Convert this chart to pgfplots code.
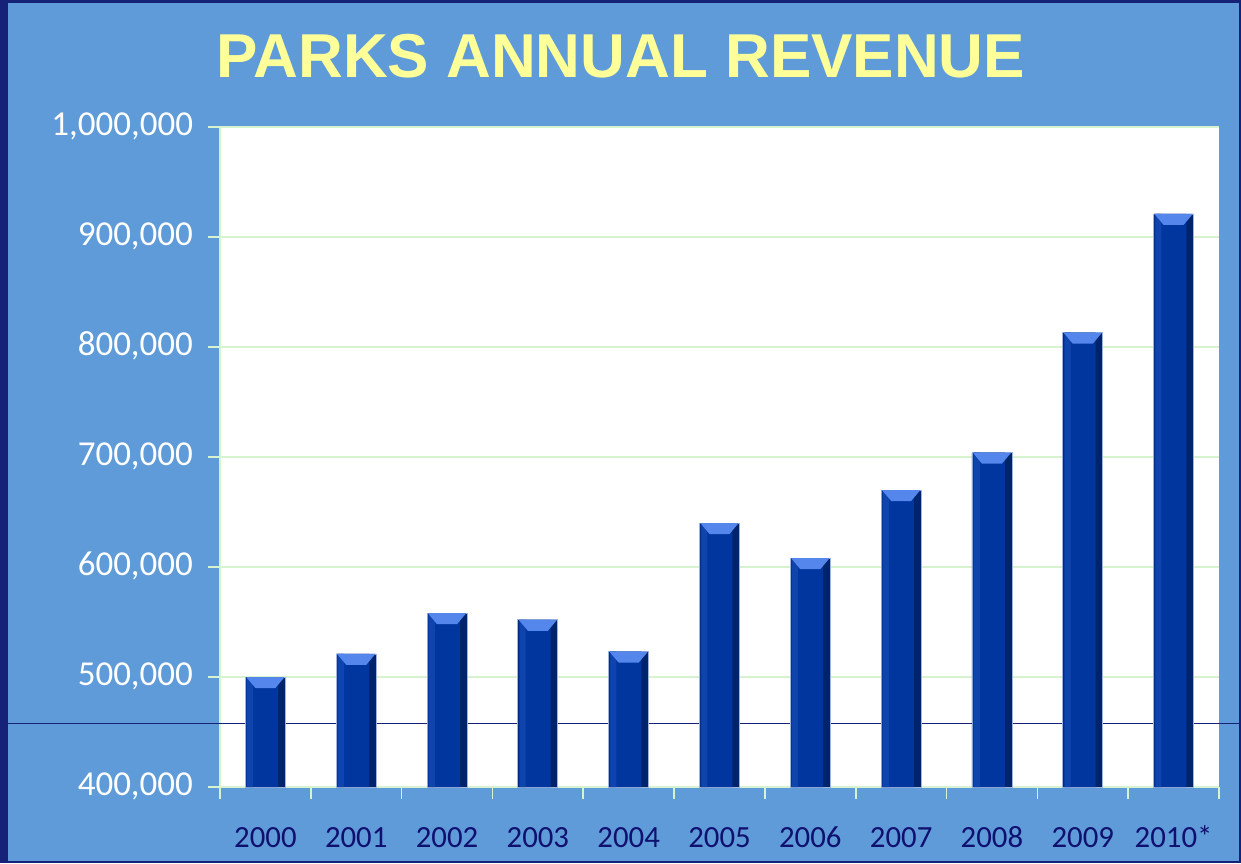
\documentclass[border=0pt]{standalone}
\usepackage{pgfplots}
\usepackage{pgfplotstable}
\pgfplotsset{compat=1.18}
\usepackage{fontspec}
\setmainfont{Carlito}
\newfontfamily\titlefont{Liberation Sans}

\definecolor{slideblue}{RGB}{94,155,216}
\definecolor{framenavy}{RGB}{22,34,120}
\definecolor{titleyellow}{RGB}{255,255,153}
\definecolor{labelnavy}{RGB}{16,16,112}
\definecolor{gridgreen}{RGB}{214,242,206}
\definecolor{barleft}{RGB}{14,68,172}
\definecolor{barmid}{RGB}{0,54,158}
\definecolor{barright}{RGB}{0,36,108}
\definecolor{baredge}{RGB}{160,180,220}
\definecolor{capblue}{RGB}{84,134,236}

% bevelled top of each bar
\pgfdeclareplotmark{bevel}{%
  \pgfpathmoveto{\pgfpoint{-9.6pt}{0pt}}%
  \pgfpathlineto{\pgfpoint{9.6pt}{0pt}}%
  \pgfpathlineto{\pgfpoint{5pt}{-5.5pt}}%
  \pgfpathlineto{\pgfpoint{-5pt}{-5.5pt}}%
  \pgfpathclose\pgfusepathqfill}

\pgfplotstableread{
x y
0 500000
1 521000
2 558000
3 552000
4 523000
5 640000
6 608000
7 670000
8 704000
9 813000
10 921000
}\revenue

\begin{document}
\begin{tikzpicture}
\path[use as bounding box] (0,0) rectangle (620.5pt,431.5pt);
\fill[framenavy] (0,0) rectangle (620.5pt,431.5pt);
\fill[slideblue] (4pt,1pt) rectangle (619.5pt,430pt);

\node[anchor=base, text=titleyellow, font=\titlefont\bfseries\fontsize{31}{36}\selectfont]
  at (310.5pt,392.5pt) {PARKS ANNUAL REVENUE};

\begin{axis}[
  at={(110pt,38pt)}, anchor=south west,
  scale only axis,
  width=499.5pt, height=330pt,
  clip=false,
  axis background/.style={fill=white},
  xmin=-0.5, xmax=10.5,
  ymin=400000, ymax=1000000,
  axis x line*=bottom, axis y line*=left,
  axis line style={draw=gridgreen, line width=1pt, -},
  ytick={400000,500000,600000,700000,800000,900000,1000000},
  ymajorgrids,
  y grid style={gridgreen, line width=0.8pt},
  tick align=outside,
  major tick length=6pt,
  minor tick length=6pt,
  tick style={gridgreen, line width=0.8pt},
  xtick={0,1,2,3,4,5,6,7,8,9,10},
  xticklabels={2000,2001,2002,2003,2004,2005,2006,2007,2008,2009,2010*},
  x tick style={draw=none},
  minor xtick={-0.5,0.5,1.5,2.5,3.5,4.5,5.5,6.5,7.5,8.5,9.5,10.5},
  minor x tick style={draw=gridgreen, line width=0.8pt},
  scaled y ticks=false,
  typeset ticklabels with strut,
  /pgf/number format/.cd, fixed, 1000 sep={,}, assume math mode=true,
  /pgfplots/.cd,
  yticklabel style={text=white, font=\fontsize{17.5}{20}\selectfont, xshift=-4pt},
  xticklabel style={text=labelnavy, font=\fontsize{15.4}{18}\selectfont, yshift=-8pt},
]
\draw[framenavy, line width=0.6pt] (axis cs:-3,458000) -- (axis cs:11,458000);
% bar body, dark right side
\addplot[ybar, bar width=20pt, bar shift=0pt, fill=barright, draw=baredge, line width=0.4pt]
  table[x=x, y=y] {\revenue};
% main face
\addplot[ybar, bar width=16pt, bar shift=-1.6pt, fill=barmid, draw=none]
  table[x=x, y=y] {\revenue};
% lighter left strip
\addplot[ybar, bar width=3pt, bar shift=-7.6pt, fill=barleft, draw=none]
  table[x=x, y=y] {\revenue};
% bevelled top
\addplot[only marks, mark=bevel, color=capblue]
  table[x=x, y=y] {\revenue};
\end{axis}
\end{tikzpicture}
\end{document}
